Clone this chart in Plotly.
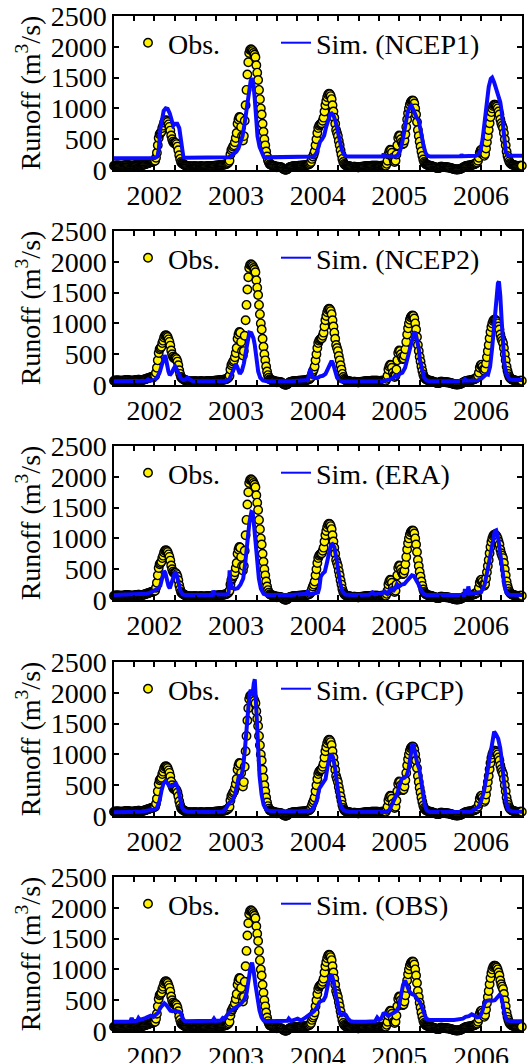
import pandas as pd
import plotly.graph_objects as go

# ---------------- data ----------------
years = [2002, 2003, 2004, 2005, 2006]
year_labels = ["2002", "2003", "2004", "2005", "2006"]
obs_step = "4D"   # observed daily runoff sampled every 4 days from 1 Jan (m3/s)

obs_2002 = [70, 70, 72, 75, 75, 73, 70, 70, 68, 68,
            70, 72, 75, 78, 80, 80, 78, 75, 72, 70,
            70, 70, 72, 75, 78, 80, 82, 85, 85, 83,
            80, 78, 80, 85, 90, 95, 100, 105, 110, 115,
            120, 125, 130, 135, 140, 145,
            150, 200, 280, 400, 520, 580, 600, 620, 680, 720,
            770, 800, 810, 800, 780, 740, 700, 640, 560, 500,
            460, 440, 430, 440, 420, 380, 320, 240, 180, 130,
            110, 100, 90, 80, 75,
            70, 65, 60, 60, 55, 55, 60, 60, 55, 55, 60]
obs_2003 = [60, 58, 55, 55, 58, 60, 62, 60, 58, 55,
            55, 58, 60, 62, 65, 65, 62, 60, 60, 62,
            65, 68, 70, 70, 72, 75, 75, 78, 80, 80,
            82, 85, 88, 90, 95, 100, 110, 125,
            150, 250, 320, 350, 380, 400, 450, 520, 600, 750,
            820, 860, 850, 700, 550, 480, 550, 800, 1050, 1300,
            1550, 1750, 1900, 1950, 1960, 1950, 1930, 1900, 1870, 1830,
            1700, 1580, 1460, 1300, 1150, 1000, 900, 750, 620, 500,
            400, 300, 220, 160, 120, 95, 85,
            80, 75, 70, 65, 60, 50, 45]
obs_2004 = [55, 52, 50, 48, 45, 40, 30, 20, 10, 5,
            5, 10, 20, 35, 45, 50, 55, 58, 60, 60,
            62, 62, 65, 65, 68, 68, 70, 70, 72, 72,
            75, 75, 78, 80, 85, 90, 95, 110, 130, 180,
            220, 250, 300, 400, 500, 600, 680, 720, 740, 750,
            760, 800, 850, 950, 1050, 1120, 1180, 1220, 1240, 1230,
            1200, 1150, 1050, 950, 850, 750, 650, 600, 550, 470,
            400, 320, 250, 180, 130, 100,
            85, 75, 70, 65, 60, 60, 55, 55, 50, 50, 55, 55, 50, 50, 45, 45]
obs_2005 = [45, 48, 50, 52, 55, 55, 58, 60, 60, 62,
            62, 65, 65, 65, 68, 68, 70, 70, 70, 70,
            68, 68, 65, 65, 65, 68, 70, 70, 70, 70,
            70, 100, 150, 250, 300, 330, 320, 280, 200, 150,
            130, 150, 250, 400, 520, 560, 550, 500, 450, 420,
            430, 480, 580, 700, 820, 920, 1000, 1060, 1100, 1120,
            1130, 1120, 1080, 1000, 900, 780, 650, 550, 460, 380,
            300, 230, 170, 130, 110, 95,
            85, 80, 75, 70, 70, 65, 60, 55, 50, 45, 40, 35, 30, 30, 35, 40]
obs_2006 = [55, 55, 52, 50, 50, 48, 45, 45, 42, 40,
            38, 35, 30, 25, 20, 15, 12, 10, 8, 8,
            10, 12, 15, 20, 28, 35, 45, 55, 60, 65,
            68, 70, 72, 75, 78, 80, 85, 90, 95, 100,
            110,
            120, 150, 200, 280, 320, 330, 300, 250, 230, 260,
            350, 450, 550, 650, 760, 860, 940, 1000, 1040, 1060,
            1060, 1050, 1030, 1000, 950, 900, 820, 760, 720, 680,
            600, 500, 400, 300, 230, 180, 140, 115, 100, 90,
            85, 80, 75, 70, 70, 65, 65, 65, 70, 70, 70]
obs_by_year = [obs_2002, obs_2003, obs_2004, obs_2005, obs_2006]

# simulated runoff: (months since 1 Jan 2002, m3/s)
sim_ncep1 = [(0, 190), (3, 192), (6.0, 195), (6.4, 220), (6.6, 350), (6.8, 650), (7.0, 820), (7.3, 960),
             (7.6, 1000), (7.9, 990), (8.2, 920), (8.5, 780), (8.7, 720), (9.0, 750), (9.3, 750), (9.6, 680),
             (9.8, 500), (10.0, 300), (10.2, 210), (10.5, 200), (12, 200), (14.9, 200), (15.0, 215), (15.2, 200),
             (16.8, 205), (17.1, 220), (17.5, 250), (18.0, 300), (18.3, 350), (18.6, 430), (18.9, 550), (19.2, 750),
             (19.5, 1000), (19.8, 1250), (20.1, 1450), (20.3, 1490), (20.5, 1400), (20.7, 1150), (20.9, 800),
             (21.1, 550), (21.4, 380), (21.7, 280), (22.0, 220), (22.3, 205), (26, 205), (29, 210), (29.4, 220),
             (29.8, 280), (30.1, 400), (30.3, 460), (30.6, 500), (30.9, 560), (31.2, 700), (31.5, 830), (31.8, 910),
             (32.0, 920), (32.3, 880), (32.6, 780), (32.9, 620), (33.2, 450), (33.5, 330), (33.8, 250), (34.1, 225),
             (34.5, 220), (39.5, 220), (39.65, 265), (39.8, 225), (41.4, 220), (41.7, 240), (42.0, 290), (42.3, 400),
             (42.6, 580), (42.9, 780), (43.2, 950), (43.5, 1030), (43.7, 1050), (44.0, 980), (44.3, 880), (44.5, 850),
             (44.8, 800), (45.0, 720), (45.2, 580), (45.5, 400), (45.8, 280), (46.1, 230), (46.5, 220), (51.0, 225),
             (51.1, 250), (51.25, 225), (53.2, 230), (53.6, 260), (53.9, 320), (54.2, 500), (54.5, 800), (54.8, 1100),
             (55.1, 1350), (55.4, 1480), (55.6, 1500), (55.9, 1420), (56.2, 1300), (56.5, 1180), (56.8, 1100),
             (57.0, 950), (57.2, 700), (57.4, 450), (57.6, 300), (57.9, 240), (58.5, 230), (60, 230)]
sim_ncep2 = [(0, 60), (3, 65), (4.8, 70), (5.0, 90), (5.2, 70), (6.0, 80), (6.3, 120), (6.7, 200), (7.0, 330),
             (7.25, 420), (7.45, 480), (7.6, 450), (7.8, 300), (8.0, 220), (8.2, 160), (8.5, 200), (8.8, 270),
             (9.0, 300), (9.2, 260), (9.5, 180), (9.8, 110), (10.2, 80), (10.5, 90), (10.8, 120), (11.0, 110),
             (11.3, 80), (11.6, 60), (14, 60), (14.8, 65), (15.0, 75), (15.2, 60), (16.5, 65), (17.0, 100),
             (17.3, 180), (17.6, 280), (17.9, 340), (18.1, 300), (18.3, 220), (18.5, 180), (18.8, 230), (19.1, 350),
             (19.4, 550), (19.7, 750), (19.9, 850), (20.2, 840), (20.5, 760), (20.7, 650), (20.95, 420), (21.2, 220),
             (21.5, 120), (21.9, 75), (22.5, 60), (26, 60), (28.5, 80), (28.7, 200), (28.85, 260), (29.0, 200),
             (29.3, 120), (29.9, 110), (30.3, 140), (30.7, 150), (31.1, 180), (31.4, 250), (31.7, 330), (32.0, 390),
             (32.2, 350), (32.5, 220), (32.8, 120), (33.1, 70), (33.5, 55), (36, 55), (39.5, 60), (40.5, 90),
             (41.0, 110), (41.3, 150), (41.6, 130), (42.0, 180), (42.4, 200), (42.8, 280), (43.2, 450), (43.5, 620),
             (43.8, 760), (44.1, 840), (44.3, 860), (44.5, 780), (44.8, 600), (45.0, 400), (45.3, 230), (45.6, 120),
             (46.0, 70), (46.5, 60), (50, 60), (51.4, 70), (51.6, 95), (51.8, 70), (53.5, 75), (54.0, 100),
             (54.5, 150), (54.8, 180), (55.0, 170), (55.3, 300), (55.6, 600), (55.9, 1000), (56.2, 1350),
             (56.45, 1650), (56.6, 1680), (56.8, 1450), (57.0, 1050), (57.2, 650), (57.4, 350), (57.7, 180),
             (58.1, 100), (58.6, 80), (60, 80)]
sim_era = [(0, 80), (3, 85), (4.8, 100), (5.5, 130), (6.0, 150), (6.4, 180), (6.8, 230), (7.1, 380), (7.35, 470),
           (7.55, 440), (7.8, 300), (8.0, 230), (8.2, 190), (8.5, 300), (8.8, 420), (9.0, 460), (9.2, 420),
           (9.5, 280), (9.8, 140), (10.1, 90), (10.5, 80), (14.4, 80), (14.6, 150), (14.8, 90), (16.6, 90),
           (16.85, 120), (17.0, 480), (17.1, 300), (17.3, 200), (17.8, 180), (18.2, 190), (18.6, 250), (19.0, 350),
           (19.3, 600), (19.6, 950), (19.9, 1250), (20.2, 1430), (20.4, 1420), (20.6, 1200), (20.8, 900),
           (21.0, 600), (21.3, 350), (21.6, 180), (22.0, 100), (22.5, 80), (26, 80), (28.3, 100), (28.5, 150),
           (28.7, 90), (29.5, 110), (30.0, 120), (30.2, 200), (30.4, 380), (30.7, 430), (31.0, 460), (31.3, 600),
           (31.6, 780), (31.9, 900), (32.1, 910), (32.4, 860), (32.7, 680), (33.0, 450), (33.3, 250), (33.6, 140),
           (34.0, 90), (35, 80), (37.5, 85), (38, 120), (38.3, 90), (39.5, 110), (39.8, 140), (40.2, 100),
           (40.8, 200), (41.0, 140), (41.3, 180), (41.6, 260), (41.9, 220), (42.3, 250), (42.7, 260), (43.0, 300),
           (43.4, 360), (43.8, 400), (44.1, 390), (44.4, 340), (44.8, 250), (45.2, 150), (45.6, 90), (46, 80),
           (50, 75), (51.5, 80), (51.6, 180), (51.75, 90), (52.0, 130), (52.1, 220), (52.3, 100), (53.5, 110),
           (54.0, 130), (54.5, 250), (54.9, 450), (55.3, 700), (55.7, 950), (56.0, 1120), (56.2, 1130),
           (56.5, 1000), (56.8, 750), (57.1, 450), (57.4, 250), (57.7, 120), (58.1, 85), (60, 80)]
sim_gpcp = [(0, 60), (4, 70), (5.0, 90), (5.8, 100), (6.3, 130), (6.7, 250), (7.0, 420), (7.3, 540), (7.6, 570),
            (7.9, 530), (8.2, 480), (8.5, 490), (8.8, 520), (9.1, 530), (9.4, 460), (9.7, 300), (10.0, 140),
            (10.3, 90), (10.8, 70), (14, 65), (16.0, 70), (16.5, 130), (17.0, 220), (17.4, 250), (17.8, 350),
            (18.1, 500), (18.4, 670), (18.7, 620), (19.0, 800), (19.3, 1150), (19.6, 1600), (19.9, 1950),
            (20.1, 2050), (20.35, 1950), (20.55, 2150), (20.7, 2220), (20.85, 1900), (21.1, 1200), (21.4, 650),
            (21.7, 350), (22.0, 180), (22.4, 100), (23, 80), (27, 75), (29.0, 90), (29.4, 150), (29.8, 250),
            (30.2, 450), (30.5, 500), (30.8, 540), (31.1, 600), (31.4, 800), (31.7, 960), (31.95, 1010),
            (32.2, 950), (32.5, 780), (32.8, 500), (33.1, 280), (33.4, 150), (33.8, 90), (34.5, 70), (40.0, 65),
            (40.5, 100), (40.9, 200), (41.3, 300), (41.7, 380), (42.0, 500), (42.3, 600), (42.7, 620), (43.0, 650),
            (43.3, 750), (43.6, 1000), (43.85, 1150), (44.05, 1150), (44.3, 1000), (44.6, 850), (44.9, 760),
            (45.1, 600), (45.4, 350), (45.7, 170), (46.0, 90), (46.5, 65), (52.5, 70), (53.0, 100), (53.6, 150),
            (54.0, 250), (54.4, 400), (54.8, 650), (55.2, 950), (55.6, 1250), (55.9, 1370), (56.2, 1320),
            (56.5, 1250), (56.8, 1100), (57.1, 800), (57.4, 450), (57.7, 200), (58.0, 100), (58.5, 75), (60, 70)]
sim_obs = [(0, 150), (1.5, 150), (2.4, 155), (2.6, 210), (2.8, 160), (3.4, 165), (3.6, 210), (3.8, 180),
           (4.2, 190), (4.6, 210), (5.0, 230), (5.4, 250), (5.8, 230), (6.2, 260), (6.5, 300), (6.8, 380),
           (7.1, 420), (7.4, 450), (7.7, 420), (8.0, 370), (8.3, 330), (8.6, 320), (9.0, 330), (9.3, 320),
           (9.6, 310), (9.9, 280), (10.1, 200), (10.4, 160), (11, 160), (13, 160), (14.5, 165), (14.7, 200),
           (14.9, 165), (15.7, 170), (16.0, 210), (16.2, 200), (16.5, 250), (16.8, 280), (17.2, 330), (17.6, 360),
           (18.0, 380), (18.4, 420), (18.8, 460), (19.2, 520), (19.5, 620), (19.8, 850), (20.1, 1050),
           (20.3, 1110), (20.5, 1000), (20.8, 750), (21.1, 500), (21.4, 330), (21.7, 220), (22.0, 170),
           (22.5, 160), (24, 160), (25.5, 165), (25.7, 200), (26.0, 160), (27.0, 200), (27.5, 170), (28.2, 220),
           (28.6, 250), (29.0, 280), (29.4, 320), (29.8, 380), (30.2, 470), (30.5, 490), (30.8, 500), (31.1, 560),
           (31.4, 720), (31.7, 880), (32.0, 920), (32.3, 800), (32.6, 600), (32.9, 400), (33.2, 280), (33.5, 260),
           (33.8, 285), (34.1, 260), (34.4, 200), (34.8, 160), (35.2, 150), (37, 150), (38.4, 160), (38.7, 220),
           (39.0, 180), (39.3, 200), (39.6, 280), (39.9, 290), (40.3, 250), (40.7, 270), (41.1, 300), (41.5, 320),
           (41.9, 400), (42.2, 600), (42.5, 750), (42.8, 820), (43.1, 720), (43.4, 650), (43.8, 600), (44.2, 580),
           (44.6, 520), (45.0, 470), (45.3, 380), (45.6, 260), (45.9, 200), (46.3, 180), (47, 180), (50, 180),
           (51.3, 200), (51.7, 230), (52.2, 240), (52.6, 270), (53.0, 250), (53.4, 220), (53.8, 230), (54.1, 300),
           (54.5, 450), (54.8, 490), (55.2, 500), (55.6, 490), (56.0, 500), (56.4, 540), (56.7, 590),
           (56.95, 560), (57.2, 420), (57.5, 250), (57.8, 170), (58.3, 160), (60, 160)]

sim_names = ["NCEP1", "NCEP2", "ERA", "GPCP", "OBS"]
sim_series = [sim_ncep1, sim_ncep2, sim_era, sim_gpcp, sim_obs]
y_ticks = [0, 500, 1000, 1500, 2000, 2500]

# ---------------- build ----------------
W, H = 527, 1063
FONT = "Liberation Serif, Times New Roman, Tinos, Nimbus Roman, DejaVu Serif, serif"
YELLOW = "#FFF200"
BLUE = "#0A0AFF"

obs_dates, obs_vals = [], []
for yr, vals in zip(years, obs_by_year):
    obs_dates += list(pd.date_range(f"{yr}-01-01", periods=len(vals), freq=obs_step))
    obs_vals += vals

start = pd.Timestamp("2002-01-01")


def to_dates(months):
    return [start + pd.to_timedelta(m * 30.4375, unit="D") for m in months]


fig = go.Figure()
panel_tops = [16, 231, 446, 662, 877]
panel_h = 154
x0_px, x1_px = 114, 522

for i, (name, series) in enumerate(zip(sim_names, sim_series)):
    n = i + 1
    xa = "x" if n == 1 else f"x{n}"
    ya = "y" if n == 1 else f"y{n}"
    lg_a = "legend" if n == 1 else f"legend{2 * n - 1}"
    lg_b = f"legend{2 * n}"
    months = [p[0] for p in series]
    flows = [p[1] for p in series]

    fig.add_trace(go.Scatter(
        x=obs_dates, y=obs_vals, mode="markers", name="Obs.",
        marker=dict(size=8.5, color=YELLOW, line=dict(color="black", width=1.4)),
        cliponaxis=False, xaxis=xa, yaxis=ya, legend=lg_a, showlegend=True))
    fig.add_trace(go.Scatter(
        x=to_dates(months), y=flows, mode="lines", name=f"Sim. ({name})",
        line=dict(color=BLUE, width=4), xaxis=xa, yaxis=ya, showlegend=False))
    # legend proxy for the simulated line (thinner legend symbol)
    fig.add_trace(go.Scatter(
        x=[None], y=[None], mode="lines", name=f"Sim. ({name})",
        line=dict(color=BLUE, width=2), xaxis=xa, yaxis=ya, legend=lg_b, showlegend=True))

    top = panel_tops[i]
    dom_y = [1 - (top + panel_h) / H, 1 - top / H]
    axis_common = dict(showline=True, linecolor="black", linewidth=1.5, mirror="allticks",
                       ticks="inside", ticklen=5, tickwidth=1.5, tickcolor="black",
                       showgrid=False, zeroline=False, automargin=False,
                       tickfont=dict(family=FONT, size=28, color="black"))
    fig.update_layout({
        ("xaxis" if n == 1 else f"xaxis{n}"): dict(
            axis_common, type="date", domain=[x0_px / W, x1_px / W], anchor=ya,
            range=["2002-01-01", "2007-01-01"], tickmode="array",
            tickvals=[f"{y}-07-01" for y in years], ticktext=year_labels,
            minor=dict(ticks="inside", ticklen=5, tickwidth=1.5, tickcolor="black",
                       dtick="M3", tick0="2002-01-01", showgrid=False)),
        ("yaxis" if n == 1 else f"yaxis{n}"): dict(
            axis_common, domain=dom_y, anchor=xa, range=[0, 2500], tickmode="array",
            tickvals=y_ticks, ticktext=[str(v) for v in y_ticks],
            title=dict(text="Runoff (m<sup>3</sup>/s)", standoff=2,
                       font=dict(family=FONT, size=28, color="black"))),
        lg_a: dict(x=128 / W, y=1 - (top + 27) / H, xanchor="left", yanchor="middle",
                   bgcolor="rgba(0,0,0,0)", borderwidth=0,
                   font=dict(family=FONT, size=28, color="black")),
        lg_b: dict(x=276 / W, y=1 - (top + 27) / H, xanchor="left", yanchor="middle",
                   bgcolor="rgba(0,0,0,0)", borderwidth=0,
                   font=dict(family=FONT, size=28, color="black")),
    })

fig.update_layout(width=W, height=H, margin=dict(l=0, r=0, t=0, b=0), autosize=False,
                  paper_bgcolor="white", plot_bgcolor="white",
                  font=dict(family=FONT, size=28, color="black"))

# remove the browser's default 8px page margin so the figure sits at the window origin
fig.write_html("out.html", config={"displayModeBar": False},
               post_script="document.body.style.margin='0px';")
